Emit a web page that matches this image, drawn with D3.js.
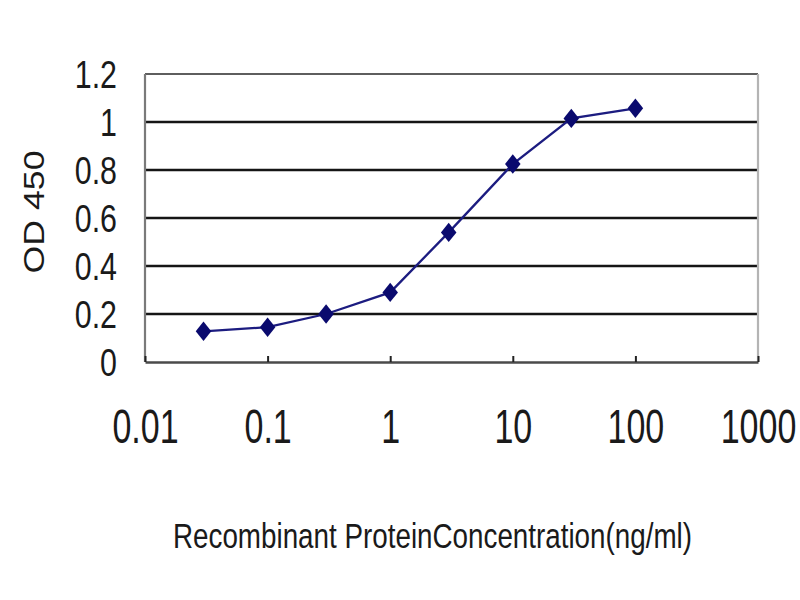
<!DOCTYPE html>
<html>
<head>
<meta charset="utf-8">
<script src="https://cdn.jsdelivr.net/npm/d3@7"></script>
<style>
  body { margin: 0; background: #fff; }
  text { font-family: "Liberation Sans", Arial, sans-serif; fill: #1a1a1a; }
</style>
</head>
<body>
<div id="chart"></div>
<script>
// concentrations (ng/ml) and the OD 450 read for each
var concentrations = [0.03, 0.1, 0.3, 1, 3, 10, 30, 100];
var odValues = [0.128, 0.145, 0.20, 0.29, 0.54, 0.825, 1.015, 1.057];
var xTicks = [0.01, 0.1, 1, 10, 100, 1000];
var yTicks = [0, 0.2, 0.4, 0.6, 0.8, 1, 1.2];

var W = 800, H = 600;
var plotL = 145, plotR = 758, plotT = 74, plotB = 362;

var svg = d3.select("#chart").append("svg")
    .attr("width", W)
    .attr("height", H);

svg.append("rect").attr("width", W).attr("height", H).attr("fill", "#fff");

var x = d3.scaleLog().domain([0.01, 1000]).range([plotL, plotR]);
var y = d3.scaleLinear().domain([0, 1.2]).range([plotB, plotT]);

// grid lines (black)
svg.append("g")
    .attr("class", "grid")
    .selectAll("line")
    .data(yTicks.filter(function(d){ return d > 0 && d < 1.2; }))
    .enter().append("line")
    .attr("x1", plotL).attr("x2", plotR)
    .attr("y1", function(d){ return y(d); })
    .attr("y2", function(d){ return y(d); })
    .attr("stroke", "#151515")
    .attr("stroke-width", 2.4);

// plot frame: top and sides
svg.append("line")
    .attr("x1", plotL).attr("x2", plotR).attr("y1", plotT).attr("y2", plotT)
    .attr("stroke", "#5e5e5e").attr("stroke-width", 2.2);
svg.append("line")
    .attr("x1", plotL).attr("x2", plotL).attr("y1", plotT).attr("y2", plotB)
    .attr("stroke", "#7a7a7a").attr("stroke-width", 2.2);
svg.append("line")
    .attr("x1", plotR).attr("x2", plotR).attr("y1", plotT).attr("y2", plotB)
    .attr("stroke", "#b4b4b4").attr("stroke-width", 2.2);

// bottom axis
var xAxis = svg.append("g")
    .attr("transform", "translate(0," + plotB + ")")
    .call(d3.axisBottom(x)
        .tickValues(xTicks)
        .tickFormat(function(d){ return String(d); })
        .tickSizeInner(-6)
        .tickSizeOuter(0));
xAxis.select(".domain").attr("stroke", "#4a4a4a").attr("stroke-width", 2.6);
xAxis.selectAll(".tick line").attr("stroke", "#222").attr("stroke-width", 2);
xAxis.selectAll(".tick text")
    .attr("y", null).attr("dy", null)
    .attr("transform", "translate(0,81) scale(1,1.4)")
    .style("font-size", "34px")
    .attr("fill", "#1a1a1a");

// left axis labels
var yAxis = svg.append("g")
    .attr("transform", "translate(" + plotL + ",0)")
    .call(d3.axisLeft(y)
        .tickValues(yTicks)
        .tickFormat(function(d){ return String(d); })
        .tickSize(0));
yAxis.select(".domain").remove();
yAxis.selectAll(".tick text")
    .attr("x", null).attr("dy", null)
    .attr("text-anchor", "end")
    .attr("transform", "translate(-28,13.5) scale(0.95,1.2)")
    .style("font-size", "32px")
    .attr("fill", "#1a1a1a");

// series line
var pts = concentrations.map(function(c, i){ return [c, odValues[i]]; });
svg.append("path")
    .datum(pts)
    .attr("fill", "none")
    .attr("stroke", "#1c1c80")
    .attr("stroke-width", 2.3)
    .attr("d", d3.line()
        .x(function(d){ return x(d[0]); })
        .y(function(d){ return y(d[1]); }));

// diamond markers
var diamond = d3.symbol().type(d3.symbolDiamond2).size(240);
svg.append("g").selectAll("path")
    .data(pts)
    .enter().append("path")
    .attr("d", diamond)
    .attr("transform", function(d){ return "translate(" + x(d[0]) + "," + y(d[1]) + ") scale(0.8,1)"; })
    .attr("fill", "#0a0a6e");

// axis titles
svg.append("text")
    .attr("x", 173).attr("y", 0)
    .attr("transform", "translate(0,548) scale(1,1.15)")
    .attr("textLength", 519)
    .attr("lengthAdjust", "spacingAndGlyphs")
    .style("font-size", "30px")
    .text("Recombinant ProteinConcentration(ng/ml)");

svg.append("text")
    .attr("transform", "translate(43.5,212) rotate(-90)")
    .attr("text-anchor", "middle")
    .attr("textLength", 123)
    .attr("lengthAdjust", "spacingAndGlyphs")
    .style("font-size", "29px")
    .text("OD 450");
</script>
</body>
</html>
